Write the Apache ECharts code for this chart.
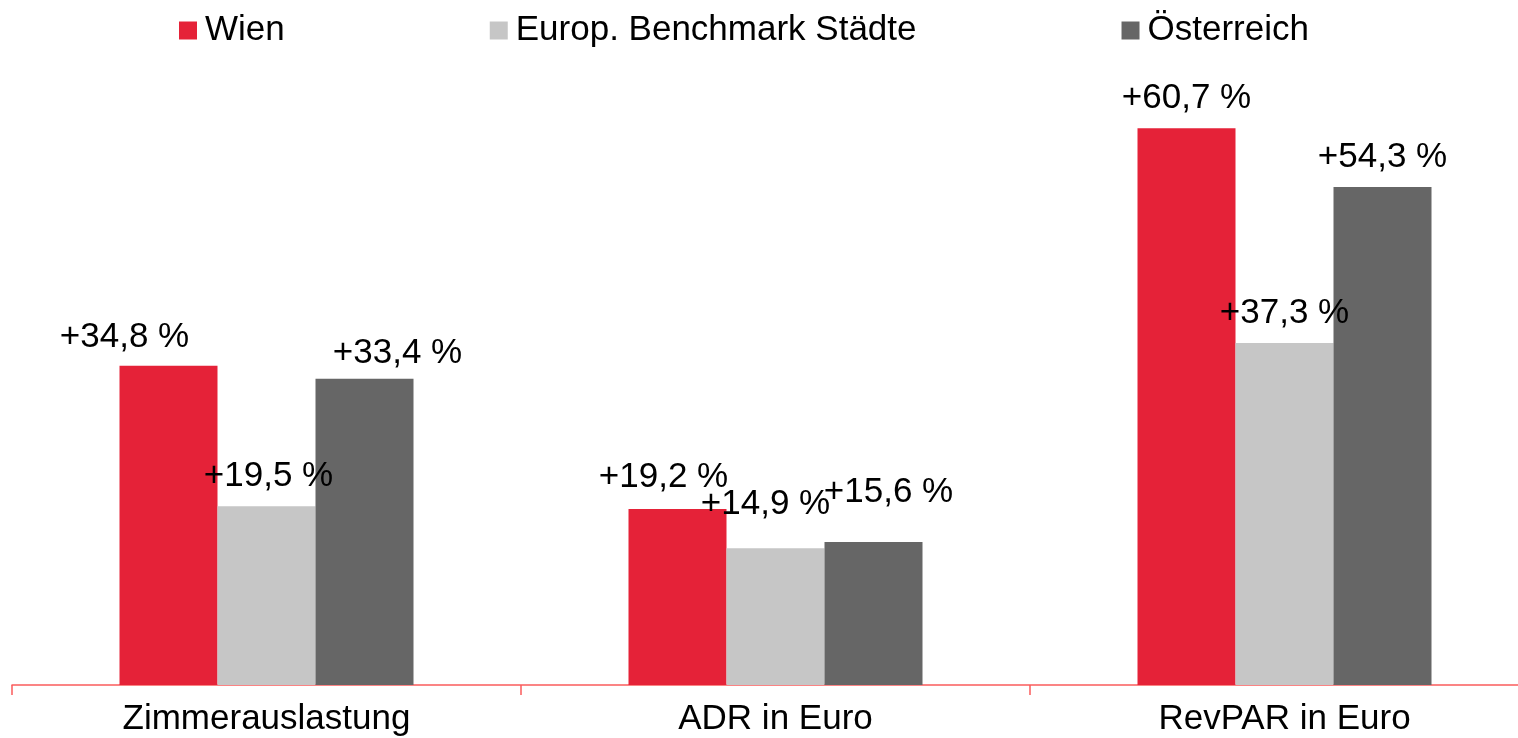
<!DOCTYPE html>
<html>
<head>
<meta charset="utf-8">
<script src="https://cdn.jsdelivr.net/npm/echarts@6/dist/echarts.min.js"></script>
<style>
    html, body { margin: 0; padding: 0; background: #ffffff; }
    #chart { width: 1518px; height: 738px; }
</style>
</head>
<body>
<div id="chart"></div>
<script>
    // chart data
    const categories = ['Zimmerauslastung', 'ADR in Euro', 'RevPAR in Euro'];
    const seriesNames = ['Wien', 'Europ. Benchmark Städte', 'Österreich'];
    const wien = [34.8, 19.2, 60.7];
    const benchmark = [19.5, 14.9, 37.3];
    const oesterreich = [33.4, 15.6, 54.3];

    // styling
    const colors = ['#e52238', '#c6c6c6', '#666666'];
    // label nudges [dx, dy] per series / category, so overlapping labels sit like the original
    const labelShift = [
        [[-44, 1], [-14, -2], [0, 0]],
        [[2, 0], [-10, -15], [0, 0]],
        [[33, 4], [15, -20], [0, 0]]
    ];
    const font = '"Liberation Sans", Arial, sans-serif';

    const chart = echarts.init(document.getElementById('chart'));

    const fmt = v => '+' + v.toFixed(1).replace('.', ',') + ' %';

    const makeSeries = (name, values, idx) => ({
        name: name,
        type: 'bar',
        barWidth: 98,
        barGap: '0%',
        itemStyle: { color: colors[idx] },
        data: values.map((v, i) => ({
            value: v,
            label: { offset: labelShift[idx][i] }
        })),
        label: {
            show: true,
            position: 'top',
            distance: 12,
            color: '#000000',
            fontFamily: font,
            fontSize: 35,
            formatter: p => fmt(p.value)
        }
    });

    const option = {
        animation: false,
        color: colors,
        legend: {
            data: seriesNames,
            left: 179,
            top: 13,
            padding: 0,
            itemWidth: 18,
            itemHeight: 18,
            itemGap: 205,
            icon: 'rect',
            textStyle: {
                color: '#000000',
                fontFamily: font,
                fontSize: 35,
                padding: [0, 0, 0, 3]
            }
        },
        // the plot runs past the right edge of the picture, as in the original
        grid: {
            left: 12,
            right: -21,
            top: 43,
            bottom: 53,
            containLabel: false,
            outerBoundsMode: 'none'
        },
        xAxis: {
            type: 'category',
            data: categories,
            axisLine: { lineStyle: { color: '#fa5c5c', width: 1.5 } },
            axisTick: { show: true, length: 10, lineStyle: { color: '#fa5c5c', width: 1.5 } },
            axisLabel: {
                color: '#000000',
                fontFamily: font,
                fontSize: 35,
                margin: 17
            }
        },
        yAxis: {
            type: 'value',
            min: 0,
            max: 70,
            show: false,
            splitLine: { show: false }
        },
        series: [
            makeSeries(seriesNames[0], wien, 0),
            makeSeries(seriesNames[1], benchmark, 1),
            makeSeries(seriesNames[2], oesterreich, 2)
        ]
    };

    chart.setOption(option);
</script>
</body>
</html>
